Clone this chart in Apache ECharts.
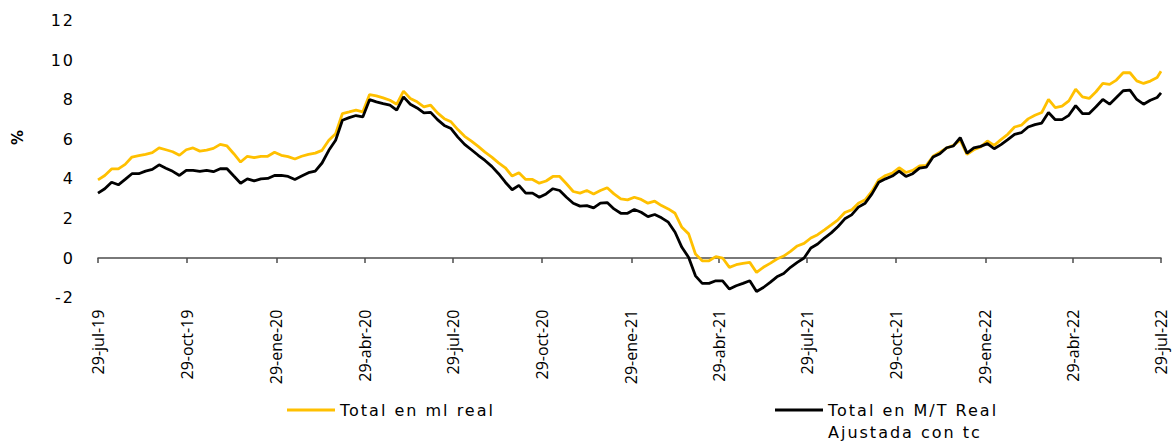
<!DOCTYPE html>
<html>
<head>
<meta charset="utf-8">
<title>Crecimiento real</title>
<script src="https://cdn.jsdelivr.net/npm/echarts@6/dist/echarts.min.js"></script>
<style>
  html, body { margin: 0; padding: 0; background: #ffffff; }
  #chart { width: 1174px; height: 443px; }
  /* wide tracking for the value labels, legend and unit */
  #chart text[style*="DejaVu"] { letter-spacing: 2px; }
</style>
</head>
<body>
<div id="chart"></div>
<script>
// Series names
const seriesNames = ['Total en ml real', 'Total en M/T Real Ajustada con tc'];

// Axis tick labels (quarterly, on the 29th)
const tickLabels = [
  '29-jul-19', '29-oct-19', '29-ene-20', '29-abr-20', '29-jul-20', '29-oct-20',
  '29-ene-21', '29-abr-21', '29-jul-21', '29-oct-21', '29-ene-22', '29-abr-22', '29-jul-22'
];

// Weekly observations from 29-jul-19; the last one is 29-jul-22
const firstDay = [2019, 6, 29];
const lastDay = [2022, 6, 29];

// Total en ml real (%)
const realMl = [
  3.95, 4.17, 4.50, 4.50, 4.73, 5.10, 5.17, 5.24, 5.32, 5.56,
  5.47, 5.37, 5.19, 5.47, 5.56, 5.40, 5.45, 5.54, 5.74, 5.66,
  5.27, 4.85, 5.14, 5.07, 5.14, 5.14, 5.34, 5.19, 5.12, 5.00,
  5.14, 5.24, 5.30, 5.44, 5.95, 6.28, 7.30, 7.38, 7.47, 7.38,
  8.26, 8.19, 8.09, 7.97, 7.77, 8.43, 8.06, 7.89, 7.64, 7.72,
  7.33, 7.04, 6.88, 6.49, 6.15, 5.91, 5.64, 5.35, 5.10, 4.81,
  4.56, 4.14, 4.31, 3.97, 3.97, 3.78, 3.89, 4.12, 4.12, 3.75,
  3.36, 3.28, 3.41, 3.24, 3.41, 3.55, 3.24, 2.99, 2.94, 3.07,
  2.96, 2.77, 2.87, 2.65, 2.48, 2.26, 1.55, 1.22, 0.20, -0.14,
  -0.14, 0.07, 0.00, -0.47, -0.34, -0.27, -0.22, -0.73, -0.47, -0.27,
  -0.05, 0.10, 0.34, 0.61, 0.74, 1.01, 1.18, 1.42, 1.67, 1.93,
  2.30, 2.43, 2.77, 2.94, 3.38, 3.95, 4.17, 4.29, 4.56, 4.32,
  4.43, 4.65, 4.68, 5.14, 5.35, 5.56, 5.69, 5.95, 5.24, 5.47,
  5.61, 5.91, 5.69, 5.98, 6.25, 6.62, 6.71, 7.03, 7.21, 7.35,
  8.01, 7.60, 7.67, 7.94, 8.53, 8.14, 8.06, 8.40, 8.82, 8.77,
  8.99, 9.36, 9.36, 8.95, 8.82, 8.94, 9.12, 9.44
];

// Total en M/T Real ajustada con tc (%)
const mtReal = [
  3.28, 3.50, 3.83, 3.70, 3.97, 4.26, 4.26, 4.39, 4.48, 4.71,
  4.54, 4.38, 4.17, 4.43, 4.43, 4.38, 4.43, 4.36, 4.51, 4.51,
  4.14, 3.78, 4.00, 3.90, 4.00, 4.02, 4.17, 4.17, 4.12, 3.97,
  4.14, 4.31, 4.39, 4.80, 5.44, 5.95, 6.96, 7.09, 7.20, 7.13,
  8.00, 7.89, 7.80, 7.72, 7.47, 8.14, 7.77, 7.58, 7.33, 7.36,
  6.99, 6.70, 6.54, 6.11, 5.74, 5.47, 5.19, 4.93, 4.63, 4.26,
  3.83, 3.45, 3.67, 3.28, 3.28, 3.07, 3.24, 3.50, 3.41, 3.07,
  2.77, 2.62, 2.65, 2.53, 2.77, 2.80, 2.48, 2.26, 2.26, 2.45,
  2.31, 2.09, 2.20, 2.03, 1.81, 1.30, 0.54, 0.03, -0.90, -1.28,
  -1.28, -1.15, -1.15, -1.57, -1.40, -1.28, -1.15, -1.69, -1.49, -1.23,
  -0.95, -0.78, -0.47, -0.22, 0.00, 0.51, 0.71, 1.01, 1.27, 1.59,
  1.98, 2.18, 2.57, 2.77, 3.24, 3.83, 4.00, 4.14, 4.39, 4.12,
  4.26, 4.54, 4.59, 5.10, 5.27, 5.57, 5.66, 6.08, 5.30, 5.56,
  5.64, 5.78, 5.52, 5.73, 5.98, 6.25, 6.33, 6.62, 6.74, 6.82,
  7.35, 6.99, 6.99, 7.21, 7.70, 7.30, 7.30, 7.64, 8.01, 7.77,
  8.11, 8.45, 8.48, 8.01, 7.77, 7.97, 8.11, 8.34
];

// ---- daily category axis, labelled in Spanish ----
const MONTHS_ES = ['ene', 'feb', 'mar', 'abr', 'may', 'jun', 'jul', 'ago', 'sep', 'oct', 'nov', 'dic'];
const DAY_MS = 86400000;
function fmtDate(t) {
  const d = new Date(t);
  return d.getUTCDate() + '-' + MONTHS_ES[d.getUTCMonth()] + '-' + String(d.getUTCFullYear()).slice(2);
}
const t0 = Date.UTC(firstDay[0], firstDay[1], firstDay[2]);
const t1 = Date.UTC(lastDay[0], lastDay[1], lastDay[2]);
const days = [];
for (let t = t0; t <= t1; t += DAY_MS) days.push(fmtDate(t));

const tickSet = new Set(tickLabels);
const isTick = (i, v) => tickSet.has(v);

// weekly observation -> day index on the axis
const obsIndex = k => Math.min(7 * k, days.length - 1);
const toPoints = arr => arr.map((v, k) => [obsIndex(k), v]);

const chart = echarts.init(document.getElementById('chart'), null, { renderer: 'svg' });

const option = {
  backgroundColor: '#ffffff',
  animation: false,
  grid: { left: 98, right: 13, top: 20.5, bottom: 145.4 },
  legend: [
    {
      data: [seriesNames[0]],
      left: 287, top: 399, padding: 0,
      icon: 'rect', itemWidth: 48, itemHeight: 3,
      textStyle: { fontFamily: 'DejaVu Sans', fontSize: 16, color: '#000', lineHeight: 22 }
    },
    {
      data: [seriesNames[1]],
      left: 775, top: 377, padding: 0,
      icon: 'rect', itemWidth: 48, itemHeight: 3,
      formatter: name => '\n' + name.replace(' Ajustada', '\nAjustada'),
      textStyle: { fontFamily: 'DejaVu Sans', fontSize: 16, color: '#000', lineHeight: 22 }
    }
  ],
  graphic: [
    {
      type: 'text', left: 10, top: 130, rotation: Math.PI / 2,
      style: { text: '%', fontFamily: 'DejaVu Sans', fontWeight: 'bold', fontSize: 15, fill: '#000' }
    }
  ],
  xAxis: {
    type: 'category',
    data: days,
    boundaryGap: false,
    axisLine: { onZero: true, lineStyle: { color: '#4d4d4d', width: 1.5 } },
    axisTick: { show: true, interval: isTick, length: 5, lineStyle: { color: '#4d4d4d', width: 1.5 } },
    axisLabel: {
      interval: isTick, rotate: 90, margin: 12,
      fontFamily: 'Open Sans', fontSize: 16, color: '#000'
    },
    splitLine: { show: false }
  },
  yAxis: {
    type: 'value',
    min: -2, max: 12, interval: 2,
    axisLine: { show: false },
    axisTick: { show: false },
    splitLine: { show: false },
    axisLabel: { margin: 23, fontFamily: 'DejaVu Sans', fontSize: 16, color: '#000' }
  },
  series: [
    {
      name: seriesNames[0], type: 'line', data: toPoints(realMl),
      symbol: 'none', lineStyle: { color: '#FFC000', width: 2.8 }, itemStyle: { color: '#FFC000' }, z: 2
    },
    {
      name: seriesNames[1], type: 'line', data: toPoints(mtReal),
      symbol: 'none', lineStyle: { color: '#000000', width: 2.8 }, itemStyle: { color: '#000000' }, z: 3
    }
  ]
};

chart.setOption(option);
</script>
</body>
</html>
